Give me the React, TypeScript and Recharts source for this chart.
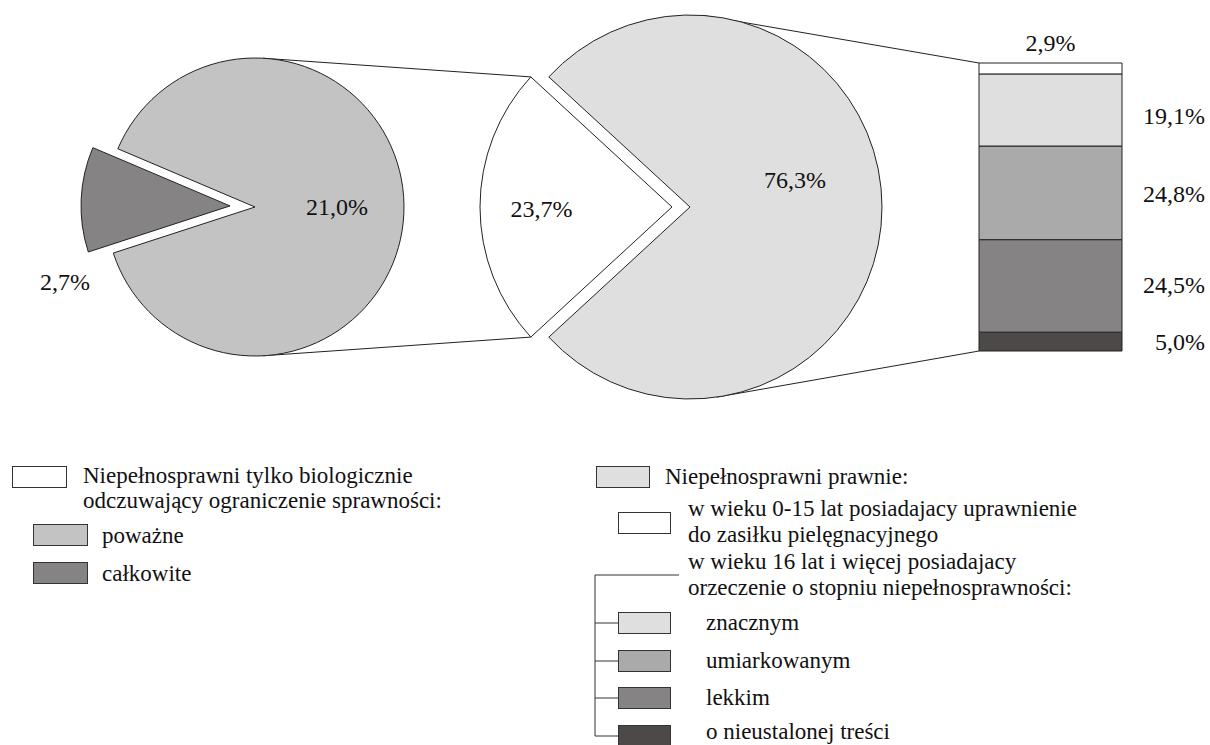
import React from 'react';
import { PieChart, Pie, Cell, BarChart, Bar, XAxis, YAxis, LabelList, Customized } from 'recharts';

// ---- data ----
const leftCategories = ['całkowite', 'poważne'];
const leftValues = [2.7, 21.0];
const leftColors = ['#858384', '#c3c3c3'];

const midCategories = ['Niepełnosprawni tylko biologicznie', 'Niepełnosprawni prawnie'];
const midValues = [23.7, 76.3];
const midColors = ['#ffffff', '#dfdfdf'];

// stacked bar, from bottom to top
const barCategories = ['o nieustalonej treści', 'lekkim', 'umiarkowanym', 'znacznym', 'w wieku 0-15 lat'];
const barValues = [5.0, 24.5, 24.8, 19.1, 2.9];
const barColors = ['#4d4948', '#858384', '#aaaaaa', '#dfdfdf', '#ffffff'];

const FONT = '"Liberation Serif", "Times New Roman", serif';
const STROKE = '#222';
const RAD = Math.PI / 180;

const fmt = (v: number) => v.toFixed(1).replace('.', ',') + '%';

const leftData = leftCategories.map((name, i) => ({ name, value: leftValues[i] }));
const midData = midCategories.map((name, i) => ({ name, value: midValues[i] }));
const barRow: Record<string, any> = { name: 'prawnie' };
barCategories.forEach((c, i) => { barRow['s' + i] = barValues[i]; });
const barData = [barRow];

// ---- layout ----
const LEFT = { cx: 255, cy: 207, r: 149, explode: 25, mid: 177.5 };
const MID = { cx: 690, cy: 207, r: 192, explode: 18, mid: 180 };
const BAR = { left: 979, top: 63, width: 143, height: 288 };

const polar = (cx: number, cy: number, r: number, deg: number) => [cx + r * Math.cos(deg * RAD), cy - r * Math.sin(deg * RAD)];

function pieGeom(g: typeof LEFT, values: number[]) {
  const total = values.reduce((a, b) => a + b, 0);
  const slice = (values[0] / total) * 360;
  const start = g.mid - slice / 2;
  const [ex, ey] = polar(g.cx, g.cy, g.explode, g.mid);
  return { start, end: start + 360, slice, ex, ey };
}
const LG = pieGeom(LEFT, leftValues);
const MG = pieGeom(MID, midValues);

// label placement (radius factor, angle) relative to each slice's own centre
const LEFT_LABELS = [{ rf: 1.22, ang: 204.7 }, { rf: 0.55, ang: 0 }];
const MID_LABELS = [{ rf: 0.68, ang: 181 }, { rf: 0.565, ang: 14.4 }];

const makeLabel = (g: typeof LEFT, geo: any, pos: any[], visibleIndex: number, exploded: boolean) => (props: any) => {
  const { index, value } = props;
  if (index !== visibleIndex) return null;
  const cx = exploded ? geo.ex : g.cx;
  const cy = exploded ? geo.ey : g.cy;
  const p = pos[index];
  const [x, y] = polar(cx, cy, p.rf * g.r, p.ang);
  return (
    <text key={'l' + index} x={x} y={y} textAnchor="middle" dominantBaseline="central" fontFamily={FONT} fontSize={24} fill="#111">
      {fmt(value)}
    </text>
  );
};

const Connectors = () => {
  const a1 = polar(LEFT.cx, LEFT.cy, LEFT.r, 87);
  const a2 = polar(LEFT.cx, LEFT.cy, LEFT.r, 273);
  const b1 = polar(MG.ex, MG.ey, MID.r, MG.start);
  const b2 = polar(MG.ex, MG.ey, MID.r, MG.start + MG.slice);
  const c1 = polar(MID.cx, MID.cy, MID.r, 86);
  const c2 = polar(MID.cx, MID.cy, MID.r, 278);
  const seg = (p: number[], q: number[], k: string) => (
    <line key={k} x1={p[0]} y1={p[1]} x2={q[0]} y2={q[1]} stroke={STROKE} strokeWidth={1} />
  );
  return (
    <g>
      {seg(a1, b1, 'a')}
      {seg(a2, b2, 'b')}
      {seg(c1, [BAR.left, BAR.top], 'c')}
      {seg(c2, [BAR.left, BAR.top + BAR.height], 'd')}
    </g>
  );
};

const BAR_SVG = { left: 960, top: 0, width: 250, height: 370 };

const rightLabel = (dy: number) => (props: any) => {
  const { x, y, width, height, value } = props;
  return (
    <text x={x + width + 83} y={y + height / 2 + dy} textAnchor="end" dominantBaseline="central" fontFamily={FONT} fontSize={24} fill="#111">
      {fmt(value)}
    </text>
  );
};
const topLabel = (props: any) => {
  const { x, y, width, value } = props;
  return (
    <text x={x + width / 2} y={y - 20} textAnchor="middle" dominantBaseline="central" fontFamily={FONT} fontSize={24} fill="#111">
      {fmt(value)}
    </text>
  );
};
const barLabelDy = [0, -1, 1, 6, 0];

const LFS = 23;
const LLH = 25.5;
const txt: React.CSSProperties = { position: 'absolute', fontFamily: FONT, fontSize: LFS, lineHeight: LLH + 'px', color: '#111', whiteSpace: 'nowrap' };
// top of a text block whose first line is centred at y
const tt = (y: number) => y - LLH / 2;
const box = (left: number, top: number, w: number, fill: string): React.CSSProperties => ({
  position: 'absolute', left, top, width: w, height: 22, background: fill, border: '1px solid #333', boxSizing: 'border-box',
});

export default function App() {
  return (
    <div style={{ position: 'absolute', left: 0, top: 0, width: 1210, height: 745, background: '#fff', overflow: 'hidden' }}>
      <div style={{ position: 'absolute', left: 0, top: 0 }}>
        <PieChart width={1210} height={410} margin={{ top: 0, right: 0, bottom: 0, left: 0 }}>
          <Pie data={leftData} dataKey="value" nameKey="name" cx={LEFT.cx} cy={LEFT.cy} outerRadius={LEFT.r}
            startAngle={LG.start} endAngle={LG.end} isAnimationActive={false} labelLine={false}
            label={makeLabel(LEFT, LG, LEFT_LABELS, 1, false)}>
            {leftData.map((d, i) => (
              <Cell key={i} fill={i === 1 ? leftColors[i] : 'none'} stroke={i === 1 ? STROKE : 'none'} strokeWidth={1} />
            ))}
          </Pie>
          <Pie data={leftData} dataKey="value" nameKey="name" cx={LG.ex} cy={LG.ey} outerRadius={LEFT.r}
            startAngle={LG.start} endAngle={LG.end} isAnimationActive={false} labelLine={false}
            label={makeLabel(LEFT, LG, LEFT_LABELS, 0, true)}>
            {leftData.map((d, i) => (
              <Cell key={i} fill={i === 0 ? leftColors[i] : 'none'} stroke={i === 0 ? STROKE : 'none'} strokeWidth={1} />
            ))}
          </Pie>
          <Pie data={midData} dataKey="value" nameKey="name" cx={MID.cx} cy={MID.cy} outerRadius={MID.r}
            startAngle={MG.start} endAngle={MG.end} isAnimationActive={false} labelLine={false}
            label={makeLabel(MID, MG, MID_LABELS, 1, false)}>
            {midData.map((d, i) => (
              <Cell key={i} fill={i === 1 ? midColors[i] : 'none'} stroke={i === 1 ? STROKE : 'none'} strokeWidth={1} />
            ))}
          </Pie>
          <Pie data={midData} dataKey="value" nameKey="name" cx={MG.ex} cy={MG.ey} outerRadius={MID.r}
            startAngle={MG.start} endAngle={MG.end} isAnimationActive={false} labelLine={false}
            label={makeLabel(MID, MG, MID_LABELS, 0, true)}>
            {midData.map((d, i) => (
              <Cell key={i} fill={i === 0 ? midColors[i] : 'none'} stroke={i === 0 ? STROKE : 'none'} strokeWidth={1} />
            ))}
          </Pie>
          <Customized component={Connectors} />
        </PieChart>
      </div>

      <div style={{ position: 'absolute', left: BAR_SVG.left, top: BAR_SVG.top }}>
        <BarChart width={BAR_SVG.width} height={BAR_SVG.height} data={barData} barCategoryGap={0}
          margin={{
            top: BAR.top - BAR_SVG.top,
            left: BAR.left - BAR_SVG.left,
            right: BAR_SVG.width - (BAR.left - BAR_SVG.left) - BAR.width,
            bottom: BAR_SVG.height - (BAR.top - BAR_SVG.top) - BAR.height,
          }}>
          <XAxis dataKey="name" type="category" hide />
          <YAxis type="number" domain={[0, 'dataMax']} hide />
          {barCategories.map((c, i) => (
            <Bar key={c} dataKey={'s' + i} name={c} stackId="a" fill={barColors[i]} stroke={STROKE} strokeWidth={1} isAnimationActive={false}>
              <LabelList dataKey={'s' + i} content={i === barCategories.length - 1 ? topLabel : rightLabel(barLabelDy[i])} />
            </Bar>
          ))}
        </BarChart>
      </div>

      {/* legend: left */}
      <div style={box(12, 466, 55, '#ffffff')} />
      <div style={{ ...txt, left: 83, top: tt(475.5) }}>Niepełnosprawni tylko biologicznie<br />odczuwający ograniczenie sprawności:</div>
      <div style={box(33, 524, 55, leftColors[1])} />
      <div style={{ ...txt, left: 102, top: tt(536) }}>poważne</div>
      <div style={box(33, 562, 55, leftColors[0])} />
      <div style={{ ...txt, left: 102, top: tt(574) }}>całkowite</div>

      {/* legend: right */}
      <div style={box(596, 466, 54, midColors[1])} />
      <div style={{ ...txt, left: 665, top: tt(477) }}>Niepełnosprawni prawnie:</div>
      <div style={box(618, 512, 53, barColors[4])} />
      <div style={{ ...txt, left: 688, top: tt(509) }}>w wieku 0-15 lat posiadajacy uprawnienie<br />do zasiłku pielęgnacyjnego</div>
      <div style={{ ...txt, left: 688, top: tt(562) }}>w wieku 16 lat i więcej posiadajacy<br />orzeczenie o stopniu niepełnosprawności:</div>
      <svg style={{ position: 'absolute', left: 0, top: 0 }} width={1210} height={745}>
        <polyline points="679,575 595,575 595,736 618,736" fill="none" stroke="#333" strokeWidth={1} />
        <line x1={595} y1={623} x2={618} y2={623} stroke="#333" strokeWidth={1} />
        <line x1={595} y1={661} x2={618} y2={661} stroke="#333" strokeWidth={1} />
        <line x1={595} y1={698} x2={618} y2={698} stroke="#333" strokeWidth={1} />
      </svg>
      <div style={box(618, 612, 53, barColors[3])} />
      <div style={{ ...txt, left: 706, top: tt(623) }}>znacznym</div>
      <div style={box(618, 650, 53, barColors[2])} />
      <div style={{ ...txt, left: 706, top: tt(661) }}>umiarkowanym</div>
      <div style={box(618, 687, 53, barColors[1])} />
      <div style={{ ...txt, left: 706, top: tt(698) }}>lekkim</div>
      <div style={box(618, 725, 53, barColors[0])} />
      <div style={{ ...txt, left: 706, top: tt(731.5) }}>o nieustalonej treści</div>
    </div>
  );
}
